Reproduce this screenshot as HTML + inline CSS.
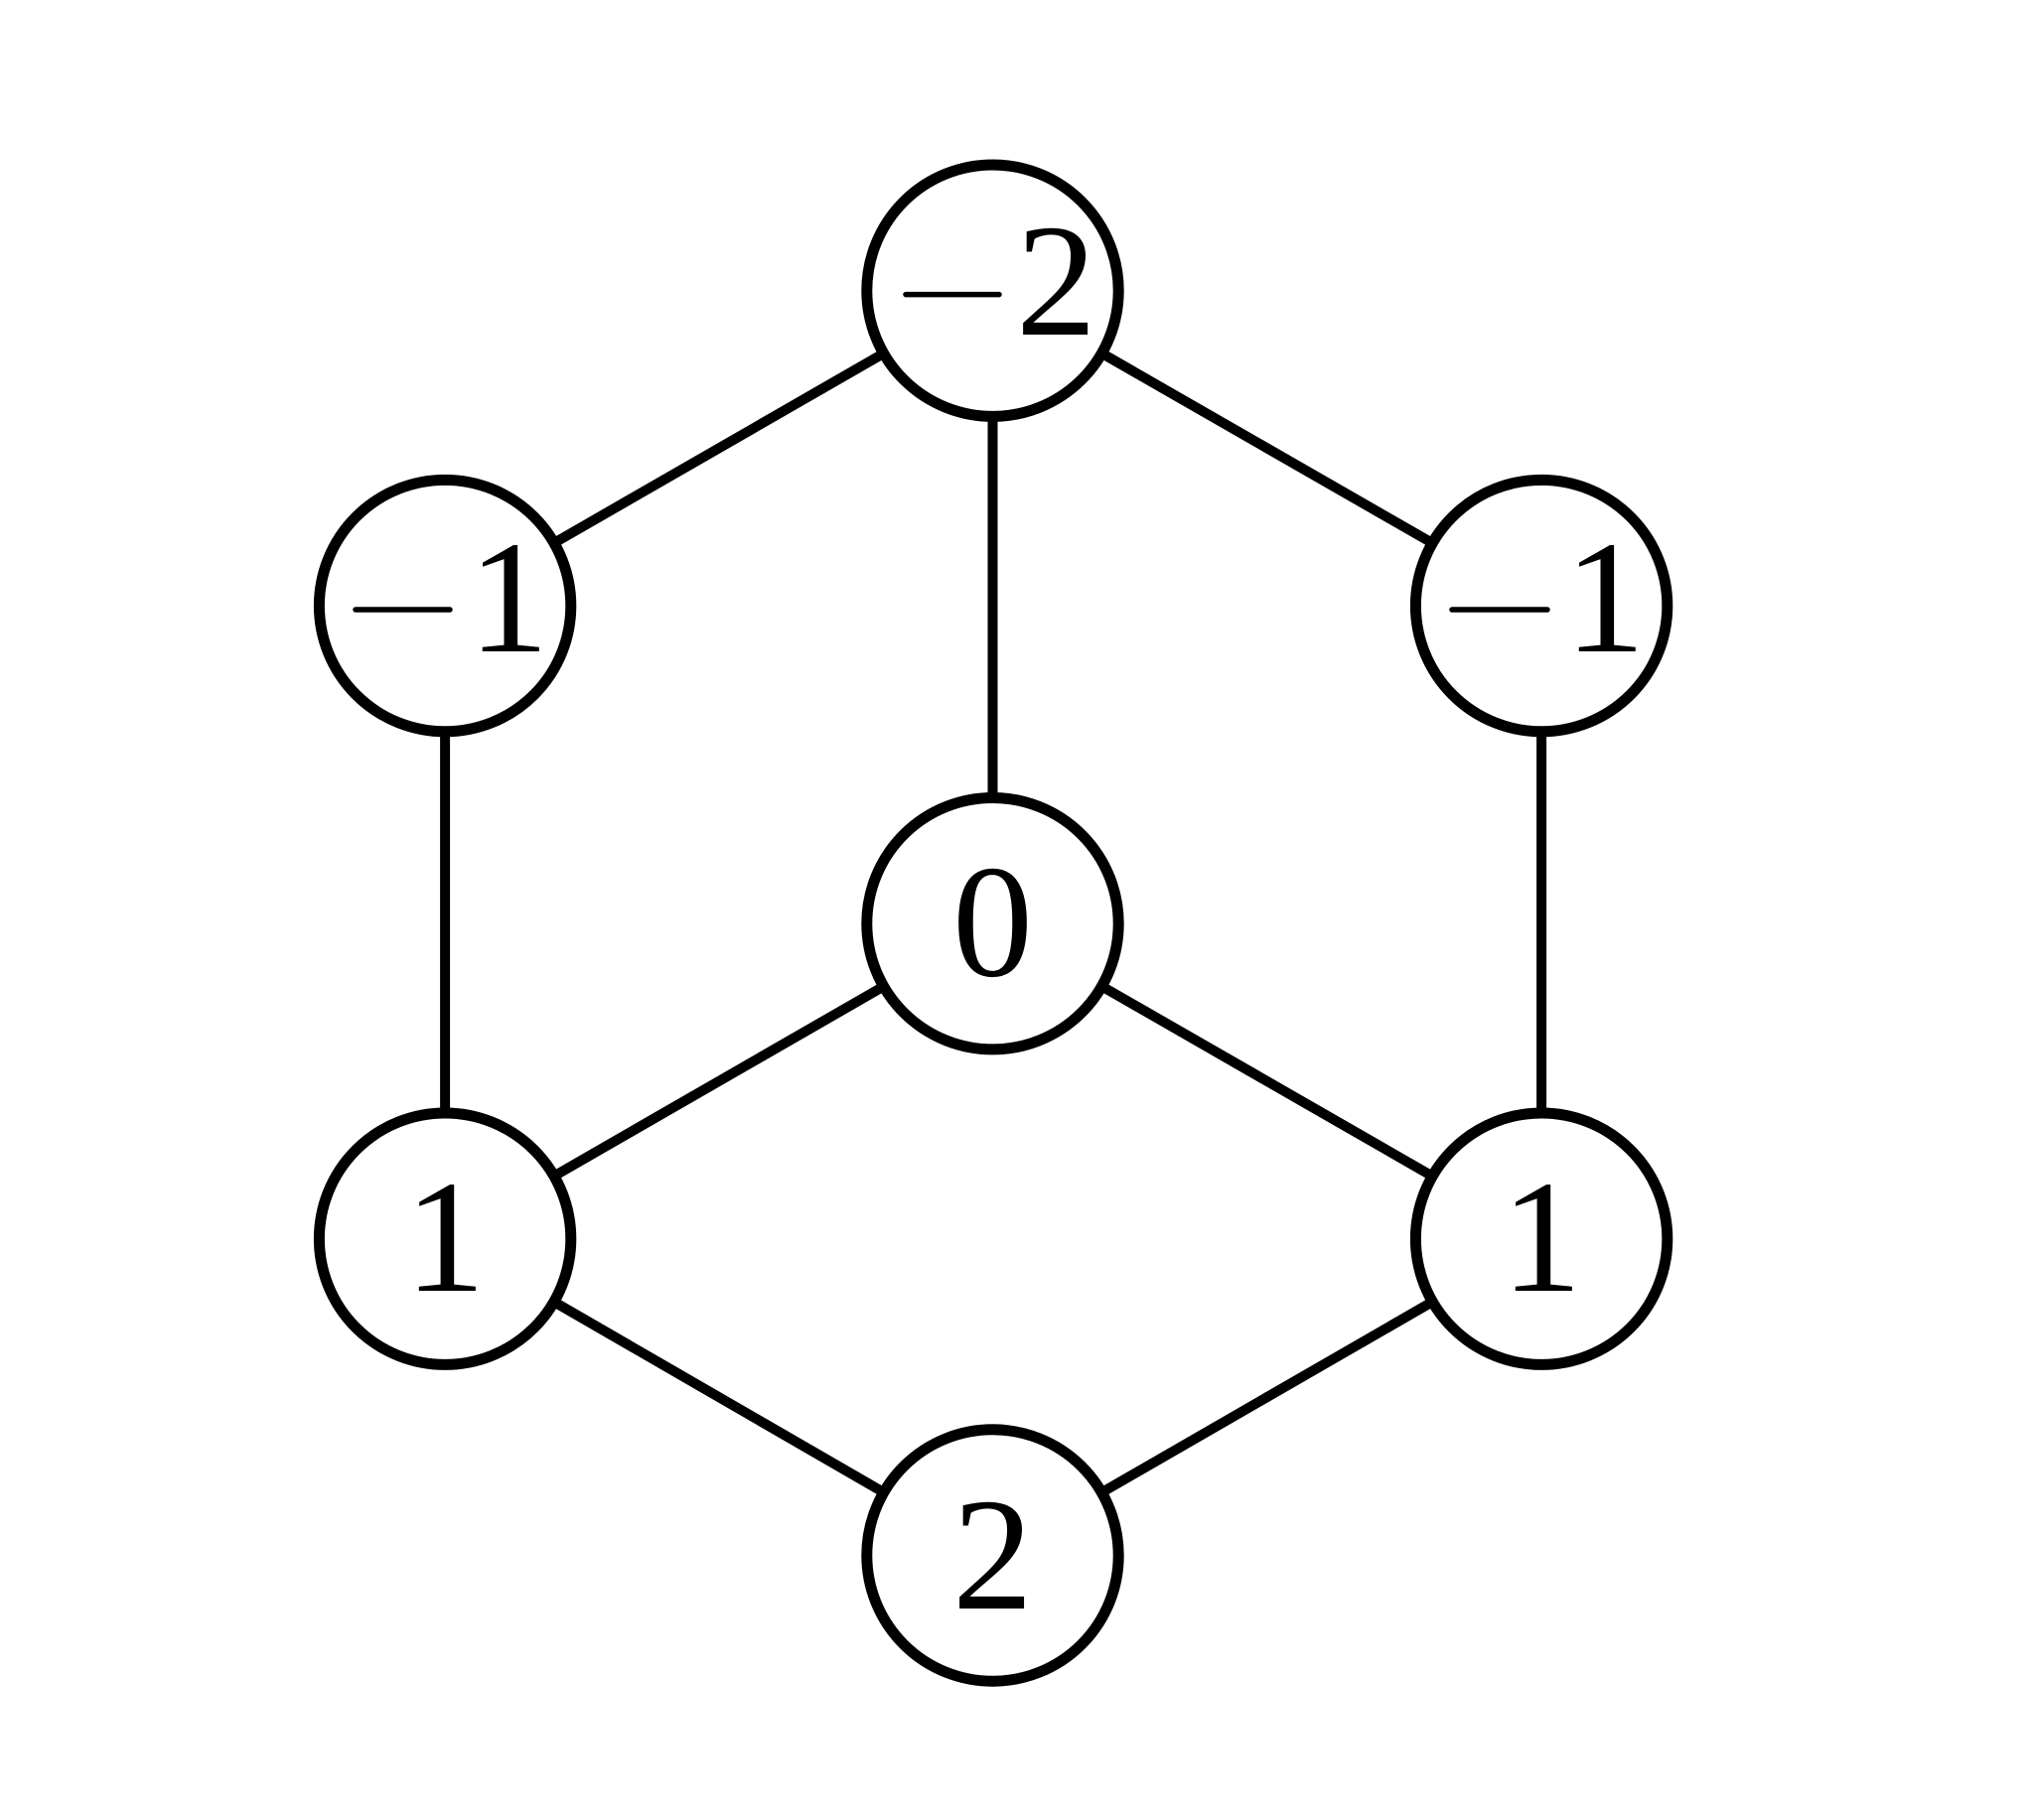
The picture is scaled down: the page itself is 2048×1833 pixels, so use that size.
<!DOCTYPE html>
<html><head><style>html,body{margin:0;padding:0;background:#fff}</style></head>
<body>
<svg width="2048" height="1828" viewBox="0 0 2048 1828" xmlns="http://www.w3.org/2000/svg">
<rect width="2048" height="1828" fill="#fff"/>
<g stroke="#000" stroke-width="10">
<line x1="999.5" y1="292.7" x2="448.1" y2="610.1"/>
<line x1="999.5" y1="292.7" x2="1552.1" y2="610.1"/>
<line x1="999.5" y1="292.7" x2="999.5" y2="930.2"/>
<line x1="448.1" y1="610.1" x2="448.1" y2="1247.7"/>
<line x1="1552.1" y1="610.1" x2="1552.1" y2="1247.7"/>
<line x1="999.5" y1="930.2" x2="448.1" y2="1247.7"/>
<line x1="999.5" y1="930.2" x2="1552.1" y2="1247.7"/>
<line x1="448.1" y1="1247.7" x2="999.5" y2="1566.5"/>
<line x1="1552.1" y1="1247.7" x2="999.5" y2="1566.5"/>
</g>
<g fill="#fff" stroke="#000" stroke-width="11">
<circle cx="999.5" cy="292.7" r="126.7"/>
<circle cx="448.1" cy="610.1" r="126.7"/>
<circle cx="1552.1" cy="610.1" r="126.7"/>
<circle cx="999.5" cy="930.2" r="126.7"/>
<circle cx="448.1" cy="1247.7" r="126.7"/>
<circle cx="1552.1" cy="1247.7" r="126.7"/>
<circle cx="999.5" cy="1566.5" r="126.7"/>
</g>
<g stroke="#000" stroke-width="5.5" stroke-linecap="round">
<line x1="912" y1="296.6" x2="1006" y2="296.6"/>
<line x1="358" y1="614" x2="453" y2="614"/>
<line x1="1462" y1="614" x2="1558" y2="614"/>
</g>
<g font-family="'Liberation Serif', serif" font-size="162" text-anchor="middle" fill="#000">
<text x="1063.5" y="337">2</text>
<text x="512" y="656">1</text>
<text x="1616" y="656">1</text>
<text x="999.5" y="982.5">0</text>
<text x="448.1" y="1300">1</text>
<text x="1552.1" y="1300">1</text>
<text x="999.5" y="1620">2</text>
</g>
</svg>
</body></html>
